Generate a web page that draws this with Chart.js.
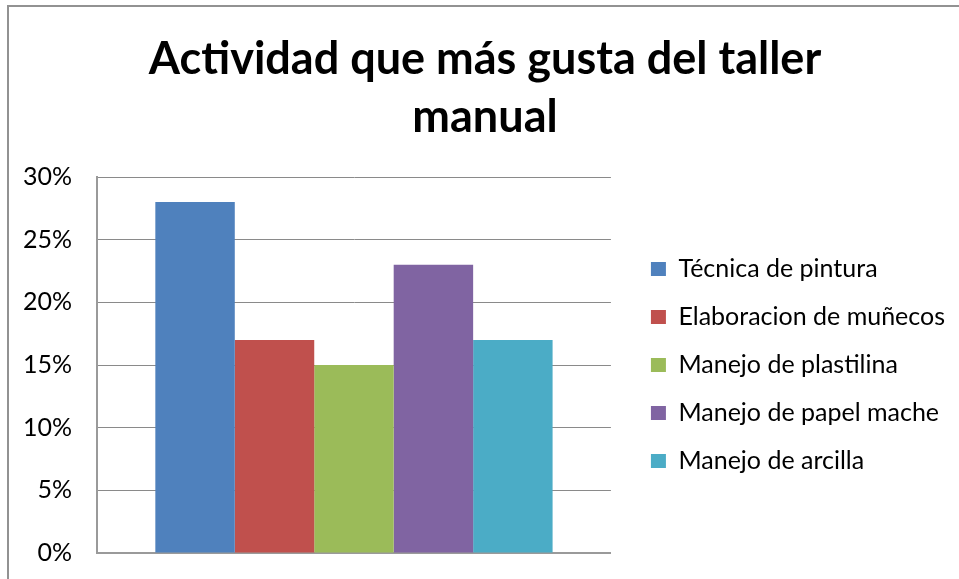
<!DOCTYPE html>
<html>
<head>
<meta charset="utf-8">
<script src="https://cdn.jsdelivr.net/npm/chart.js@4/dist/chart.umd.min.js"></script>
<style>
  html, body { margin: 0; padding: 0; background: #fff; width: 959px; height: 579px; overflow: hidden; }
  #frame { position: absolute; left: 7px; top: 5px; width: 1200px; height: 800px; border: 2px solid #929292; box-sizing: border-box; }
  #c { position: absolute; left: 0; top: 0; }
</style>
</head>
<body>
<div id="frame"></div>
<canvas id="c" width="959" height="579"></canvas>
<script>
const titleLines = ['Actividad que más gusta del taller', 'manual'];
const categories = [''];
const seriesNames = ['Técnica de pintura', 'Elaboracion de muñecos', 'Manejo de plastilina', 'Manejo de papel mache', 'Manejo de arcilla'];
const seriesValues = [28, 17, 15, 23, 17];
const seriesColors = ['#4F81BD', '#C0504D', '#9BBB59', '#8064A2', '#4BACC6'];
const yTicks = [0, 5, 10, 15, 20, 25, 30];

const FONT = 'Lato';

// nudge legend and title boxes horizontally after Chart.js layout
const boxShift = {
  id: 'boxShift',
  afterLayout(chart) {
    const l = chart.legend;
    if (l) { l.left += 17; l.right += 17; }
    const t = chart.titleBlock;
    if (t) { t.left += 10.5; t.right += 10.5; }
  }
};

new Chart(document.getElementById('c'), {
  type: 'bar',
  data: {
    labels: categories,
    datasets: seriesNames.map((name, i) => ({
      label: name,
      data: [seriesValues[i]],
      backgroundColor: seriesColors[i],
      borderWidth: 0,
      categoryPercentage: 0.773,
      barPercentage: 1.0
    }))
  },
  options: {
    responsive: false,
    animation: false,
    layout: { padding: { left: 11, right: 21, top: 0, bottom: 26 } },
    plugins: {
      title: {
        display: true,
        text: titleLines,
        color: '#000',
        font: { family: FONT, size: 45, weight: 'bold', lineHeight: 1.289 },
        padding: { top: 30, bottom: 31 }
      },
      legend: {
        position: 'right',
        fullSize: false,
        maxWidth: 347,
        labels: {
          color: '#000',
          font: { family: FONT, size: 25 },
          boxWidth: 15,
          boxHeight: 14,
          padding: 23
        }
      },
      tooltip: { enabled: false }
    },
    scales: {
      x: {
        ticks: { display: false },
        grid: { display: false, drawTicks: false },
        border: { display: true, color: '#9a9a9a', width: 2 }
      },
      y: {
        min: yTicks[0],
        max: yTicks[yTicks.length - 1],
        afterFit(scale) { scale.width = 86; },
        afterBuildTicks(scale) { scale.ticks = yTicks.map(v => ({ value: v })); },
        ticks: {
          color: '#000',
          padding: 0,
          font: { family: FONT, size: 25 },
          callback: v => v + '%'
        },
        grid: { color: '#8a8a8a', lineWidth: 1, drawTicks: true, tickLength: 25, tickColor: 'rgba(0,0,0,0)' },
        border: { display: true, color: '#9a9a9a', width: 2 }
      }
    }
  },
  plugins: [boxShift]
});
</script>
</body>
</html>
